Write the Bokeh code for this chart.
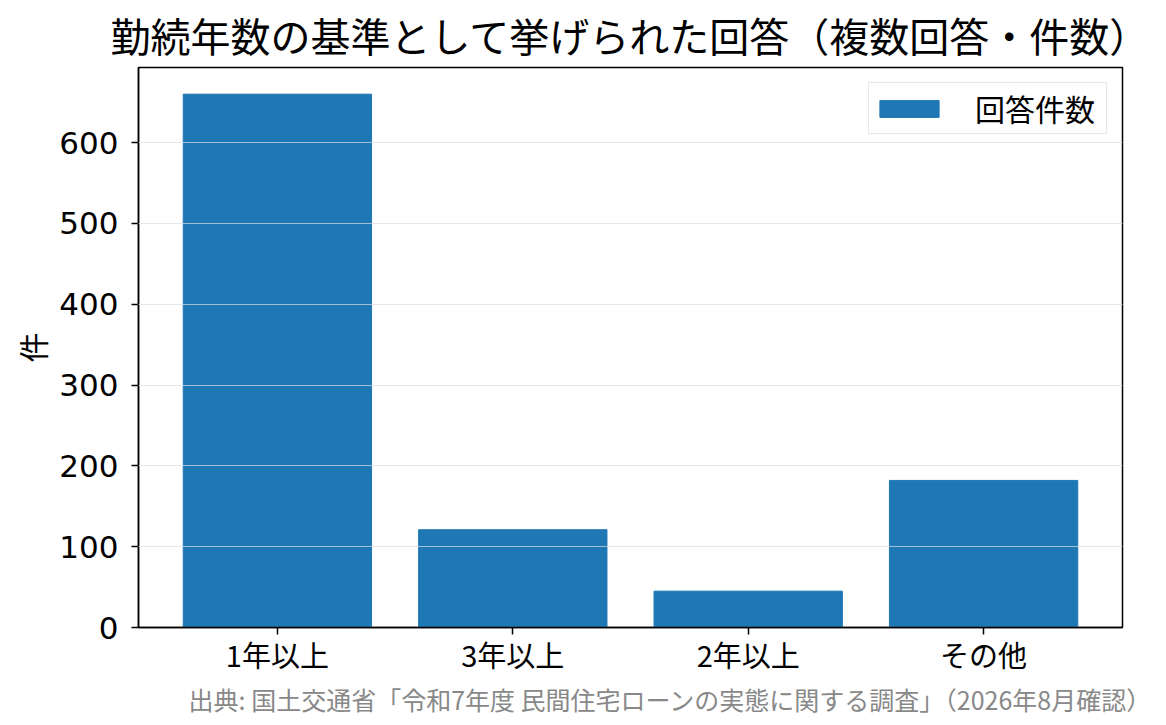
import numpy as np
from bokeh.plotting import figure
from bokeh.models import Range1d, FixedTicker, Legend, LegendItem, Title
from bokeh.embed import file_html
from bokeh.resources import INLINE

categories = ["1年以上", "3年以上", "2年以上", "その他"]
counts = [660, 121, 45, 182]
y_ticks = [0, 100, 200, 300, 400, 500, 600]

title_text = "勤続年数の基準として挙げられた回答（複数回答・件数）"
source_text = "出典: 国土交通省「令和7年度 民間住宅ローンの実態に関する調査」（2026年8月確認）"
FONT = "Noto Sans CJK JP"

xs = list(range(len(categories)))

p = figure(width=1158, height=717, output_backend="svg", toolbar_location=None,
           x_range=Range1d(-0.59, len(categories) - 0.41),
           y_range=Range1d(0, 693),
           min_border_left=138, min_border_right=36,
           min_border_top=67, min_border_bottom=81)

p.title.text = title_text
p.title.text_font = FONT
p.title.text_font_size = "40px"
p.title.text_font_style = "normal"
p.title.align = "center"
p.title.text_color = "black"
p.title.standoff = 7

r = p.vbar(x=xs, top=counts, width=0.8, color="#1f77b4")

# axes
p.xaxis.ticker = FixedTicker(ticks=xs)
p.xaxis.major_label_overrides = {i: c for i, c in enumerate(categories)}
p.yaxis.ticker = FixedTicker(ticks=y_ticks)
p.yaxis.axis_label = "件"
for ax in (p.xaxis, p.yaxis):
    ax.major_label_text_font = FONT
    ax.major_label_text_font_size = "29px"
    ax.major_label_text_color = "black"
    ax.axis_line_color = "black"
    ax.axis_line_width = 1.5
    ax.major_tick_line_color = "black"
    ax.major_tick_line_width = 1.5
    ax.major_tick_in = 0
    ax.major_tick_out = 7
    ax.minor_tick_line_color = None
p.yaxis.major_label_text_font = "DejaVu Sans"
p.yaxis.major_label_text_font_size = "31px"
p.yaxis.major_label_standoff = 13
p.xaxis.major_label_standoff = -2
p.yaxis.axis_label_text_font = FONT
p.yaxis.axis_label_text_font_size = "30px"
p.yaxis.axis_label_text_font_style = "normal"
p.yaxis.axis_label_text_color = "black"
p.yaxis.axis_label_standoff = 2

p.xgrid.grid_line_color = None
p.ygrid.grid_line_color = "#dddddd"
p.ygrid.grid_line_alpha = 0.7
p.ygrid.level = "overlay"

p.outline_line_color = "black"
p.outline_line_width = 1.5
p.outline_line_alpha = 1.0

legend = Legend(items=[LegendItem(label="回答件数", renderers=[r])],
                location="top_right")
legend.label_text_font = FONT
legend.label_text_font_size = "30px"
legend.label_text_color = "black"
legend.label_width = 128
legend.glyph_width = 74
legend.glyph_height = 21
legend.label_standoff = 29
legend.padding = 3
legend.margin = 15
legend.border_line_color = "#d0d0d0"
legend.border_line_width = 1.5
p.add_layout(legend)

src = Title(text=source_text, align="right", offset=-30, standoff=2,
            text_font=FONT, text_font_size="25px", text_font_style="normal",
            text_color="#888888")
p.add_layout(src, "below")

open("out.html", "w").write(file_html(p, INLINE))
